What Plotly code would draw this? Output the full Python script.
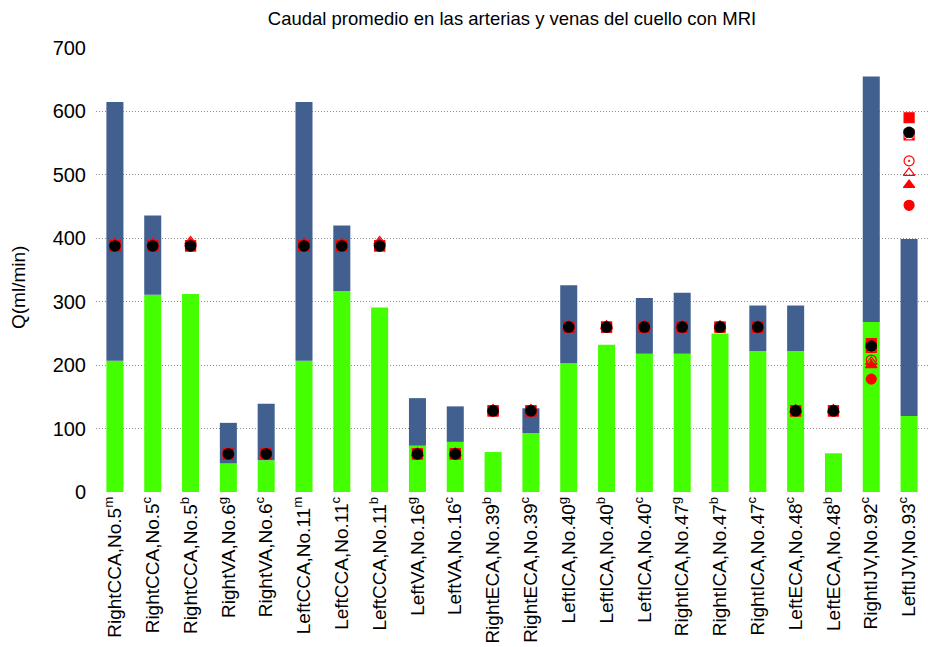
import plotly.graph_objects as go

# Vessel / sequence labels (superscript = acquisition protocol)
vessels = ["RightCCA,No.5", "RightCCA,No.5", "RightCCA,No.5", "RightVA,No.6", "RightVA,No.6",
           "LeftCCA,No.11", "LeftCCA,No.11", "LeftCCA,No.11", "LeftVA,No.16", "LeftVA,No.16",
           "RightECA,No.39", "RightECA,No.39", "LeftICA,No.40", "LeftICA,No.40", "LeftICA,No.40",
           "RightICA,No.47", "RightICA,No.47", "RightICA,No.47", "LeftECA,No.48", "LeftECA,No.48",
           "RightIJV,No.92", "LeftIJV,No.93"]
protocols = ["m", "c", "b", "g", "c", "m", "c", "b", "g", "c", "b", "c",
             "g", "b", "c", "g", "b", "c", "c", "b", "c", "c"]

# Measured flow range (ml/min): lower bound and upper bound (None = single value)
q_low = [207, 311, 312, 45, 50, 207, 317, 291, 73, 79, 63, 93,
         203, 232, 218, 218, 250, 222, 222, 61, 268, 120]
q_high = [615, 436, None, 109, 139, 615, 420, None, 148, 135, None, 132,
          326, None, 306, 314, None, 294, 294, None, 655, 399]

# Mean flow and simulated flows (ml/min)
q_mean = [388, 388, 388, 60, 60, 388, 388, 388, 60, 60, 128, 128,
          260, 260, 260, 260, 260, 260, 128, 128, 230, 567]
sim_square = [388, 388, 388, 60, 60, 388, 388, 388, 60, 60, 128, 128,
              260, 260, 260, 260, 260, 260, 128, 128, 234, 590]
sim_square_x = [388, 388, 388, 60, 60, 388, 388, 388, 60, 60, 128, 128,
                260, 260, 260, 260, 260, 260, 128, 128, 228, 563]
sim_ring = [388, 388, 388, 60, 60, 388, 388, 388, 60, 60, 128, 128,
            260, 260, 260, 260, 260, 260, 128, 128, 208, 522]
sim_tri_open = [392, 392, 395, 61, 61, 392, 392, 395, 61, 61, 130, 130,
                262, 262, 262, 262, 262, 262, 130, 130, 205, 503]
sim_tri = [391, 391, 392, 61, 61, 391, 391, 392, 61, 61, 129, 129,
           261, 261, 261, 261, 261, 261, 129, 129, 200, 484]
sim_circle = [388, 388, 388, 60, 60, 388, 388, 388, 60, 60, 128, 128,
              260, 260, 260, 260, 260, 260, 128, 128, 178, 452]

y_ticks = [0, 100, 200, 300, 400, 500, 600, 700]

idx = list(range(len(vessels)))
labels = [f"{v}<sup>{p}</sup>" for v, p in zip(vessels, protocols)]
span = [(h - l) if h is not None else 0 for l, h in zip(q_low, q_high)]

GREEN = "#44FF00"
BLUE = "#41608F"
RED = "#FF0000"
FONT = "Liberation Sans, Arial, sans-serif"

fig = go.Figure()
fig.add_trace(go.Bar(x=idx, y=q_low, width=0.45, marker=dict(color=GREEN, line=dict(width=0)),
                     showlegend=False))
fig.add_trace(go.Bar(x=idx, y=span, base=q_low, width=0.45,
                     marker=dict(color=BLUE, line=dict(width=0)), showlegend=False))

red_series = [
    (sim_circle, "circle", RED),
    (sim_tri, "triangle-up", RED),
    (sim_tri_open, "triangle-up-open", RED),
    (sim_ring, "circle-open-dot", RED),
    (sim_square_x, "square-x-open", RED),
    (sim_square, "square", RED),
]
for vals, sym, col in red_series:
    fig.add_trace(go.Scatter(x=idx, y=vals, mode="markers", showlegend=False,
                             marker=dict(symbol=sym, size=10, color=col,
                                         line=dict(color=col, width=1.2))))
fig.add_trace(go.Scatter(x=idx, y=q_mean, mode="markers", showlegend=False,
                         marker=dict(symbol="circle", size=11.5, color="black")))

fig.update_layout(
    width=928, height=647,
    margin=dict(l=96, r=0, t=48, b=155),
    paper_bgcolor="white", plot_bgcolor="white",
    barmode="overlay",
    font=dict(family=FONT, color="black"),
    title=dict(text="Caudal promedio en las arterias y venas del cuello con MRI",
               x=0.5, xref="paper", y=0.972, yanchor="middle",
               font=dict(family=FONT, size=18.5, color="black")),
    xaxis=dict(range=[-0.5, len(vessels) - 0.5], tickmode="array", tickvals=idx,
               ticktext=labels, tickangle=-90, showgrid=False, zeroline=False,
               showline=False, ticks="", tickfont=dict(size=19, family=FONT)),
    yaxis=dict(range=[0, 700], tickmode="array", tickvals=y_ticks,
               showgrid=True, gridcolor="#8c8c8c", griddash="1px,2px", gridwidth=1,
               zeroline=False, showline=False, ticks="", ticklabelstandoff=9,
               tickfont=dict(size=20, family=FONT)),
    annotations=[dict(text="Q(ml/min)", textangle=-90, xref="paper", yref="paper",
                      x=(18 - 96) / 832, y=(492 - 288) / 444, xanchor="center",
                      yanchor="middle", showarrow=False,
                      font=dict(size=19, family=FONT, color="black"))],
)

fig.write_html("out.html")
